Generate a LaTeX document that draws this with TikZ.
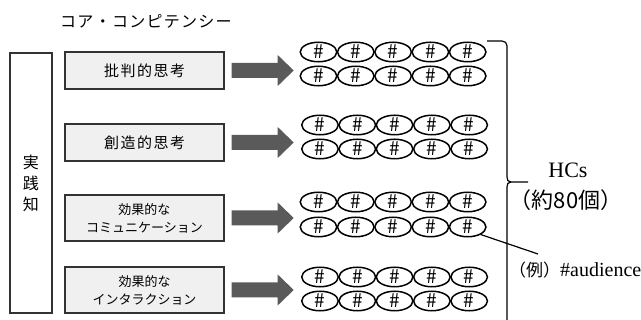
\documentclass[tikz,border=0pt]{standalone}
\usepackage{fontspec}
\setmainfont{Liberation Serif}
\newfontfamily\jp{Noto Sans CJK JP}
\newfontfamily\jpsp[LetterSpace=10]{Noto Sans CJK JP}
\newfontfamily\jptitle[LetterSpace=8]{Noto Sans CJK JP}
\usetikzlibrary{shapes.geometric,calc}
\definecolor{boxfill}{HTML}{F0F0F0}
\definecolor{boxline}{HTML}{333333}
\definecolor{arrowc}{HTML}{5A5A5A}
\begin{document}
\begin{tikzpicture}[x=1pt,y=-1pt,
  core/.style={draw=boxline, line width=1.4pt, fill=boxfill, minimum width=159pt, inner sep=0pt, align=center},
  coreone/.style={core, minimum height=37pt, font=\jpsp\fontsize{15}{17}\selectfont},
  coretwo/.style={core, minimum height=46pt, font=\jp\fontsize{13}{18}\selectfont},
  hc/.style={draw=black, ellipse, line width=1.5pt, minimum width=36.5pt, minimum height=19.5pt, inner sep=0pt, font=\jp\fontsize{19}{19}\selectfont},
  fat/.style={fill=arrowc},
  lead/.style={draw=black, line width=1.2pt}]
\useasboundingbox (0,0) rectangle (641,320);
% title
\node[font=\jptitle\fontsize{16}{18}\selectfont, anchor=west, inner sep=0pt] (title) at (60,21) {コア・コンピテンシー};
% left box
\node[draw=boxline, line width=1.4pt, fill=white, minimum width=42pt, minimum height=260pt, inner sep=0pt] (jk) at (31,183) {};
\node[font=\jp\fontsize{16}{21}\selectfont, align=center, inner sep=0pt] (jktext) at (jk.center) {実\\践\\知};
% core boxes
\node[coreone] (c1) at (144.5,70.5) {批判的思考};
\node[coreone] (c2) at (144.5,142.5) {創造的思考};
\node[coretwo] (c3) at (144.5,218) {効果的な\\コミュニケーション};
\node[coretwo] (c4) at (144.5,290) {効果的な\\インタラクション};
% fat arrows
\foreach \c in {c1,c2,c3,c4} {
  \fill[fat] ($(\c.east)+(7,-7.5)$) -- ++(46,0) -- ++(0,-8) -- ++(16,15.5) -- ++(-16,15.5) -- ++(0,-8) -- ++(-46,0) -- cycle;
}
% HC ellipses
\foreach \g/\ya/\yb/\xo in {1/52/76/318.5, 2/125/149/320, 3/202/227/318.5, 4/277/301/320} {
  \foreach \i in {0,...,4} {
    \node[hc] (h\g a\i) at (\xo+\i*37.3, \ya) {\#};
    \node[hc] (h\g b\i) at (\xo+\i*37.3, \yb) {\#};
  }
}
% brace
\draw[lead] (487,41) -- (502,41) .. controls (505,41) and (507,43) .. (507,46) -- (507,177)
  .. controls (507,180) and (508,182) .. (511,182) -- (528,182);
\draw[lead] (511,182) .. controls (508,182) and (507,184) .. (507,187) -- (507,322);
% labels
\node[font=\fontsize{22}{24}\selectfont, inner sep=0pt] (hcs) at (568,170) {HCs};
\node[font=\jp\fontsize{22}{24}\selectfont, inner sep=0pt] (num) at (566,200) {（約80個）};
\coordinate (leadend) at (538,254);
\draw[lead] (h3b4.-30) -- (leadend);
\node[anchor=west, inner sep=0pt] (ex) at (509,270) {{\jp\fontsize{17}{18}\selectfont （例）}{\fontsize{20}{20}\selectfont\#audience}};
\end{tikzpicture}
\end{document}
